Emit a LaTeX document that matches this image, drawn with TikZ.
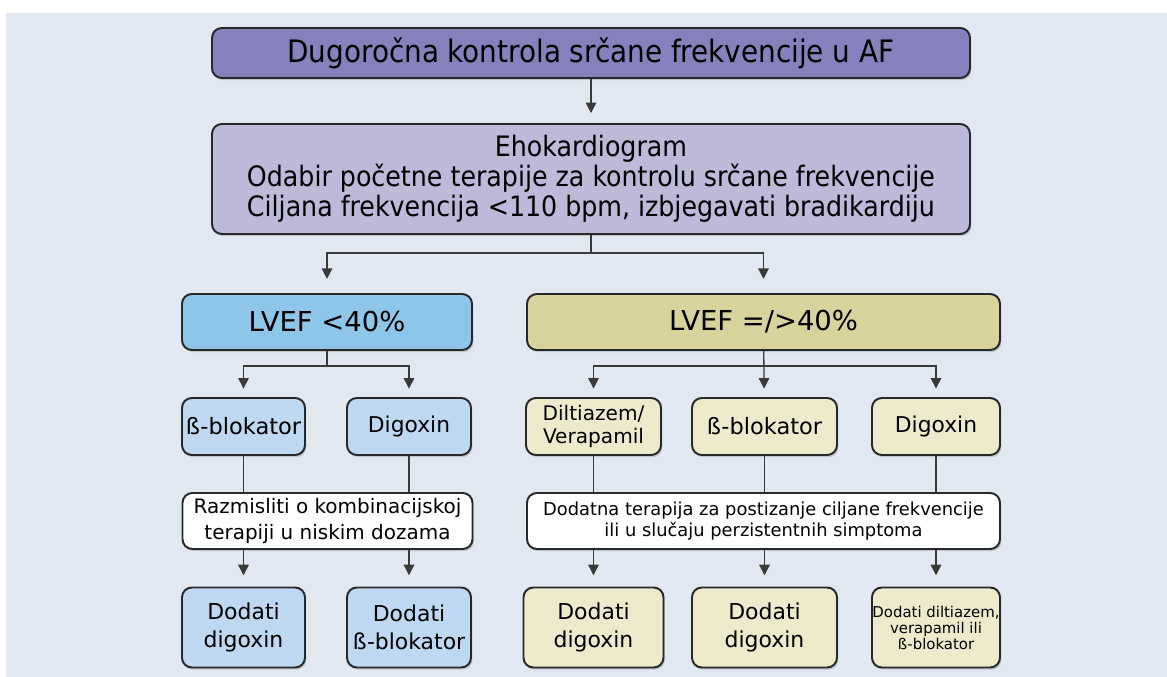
\documentclass[tikz,border=0pt]{standalone}
\usepackage{fontspec}
\setmainfont{DejaVu Sans}
\newfontfamily\condfont{DejaVu Sans Condensed}
\usepackage{tikz}
\definecolor{backdrop}{RGB}{225, 232, 242}
\definecolor{outline}{RGB}{40, 40, 40}
\definecolor{wirecol}{RGB}{58, 58, 58}
\definecolor{topviolet}{RGB}{134, 128, 189}
\definecolor{lilac}{RGB}{188, 185, 217}
\definecolor{skyblue}{RGB}{141, 198, 232}
\definecolor{paleblue}{RGB}{189, 216, 240}
\definecolor{khaki}{RGB}{216, 211, 157}
\definecolor{palekhaki}{RGB}{237, 234, 204}
\usetikzlibrary{arrows.meta, positioning, calc, shadows}
\newlength\pix
\setlength\pix{0.025cm}

\begin{document}
\begin{tikzpicture}[x=0.025cm, y=-0.025cm,
    box/.style={draw=outline, line width=1.4pt, rounded corners=7pt, fill=#1,
                align=center, inner sep=0pt,
                drop shadow={shadow xshift=1pt, shadow yshift=-1.5pt, fill=black, opacity=0.15}},
    wire/.style={draw=wirecol, line width=0.9pt},
    link/.style={wire, -{Triangle[length=7.5pt, width=7.5pt]}, shorten >=#1},
    link/.default=6pt
]
    \useasboundingbox (0,0) rectangle (1167,677);
    \fill[backdrop] (6,13) rectangle (1167,677);

    \node[box=topviolet, font=\condfont\fontsize{22}{26}\selectfont,
          minimum width=758\pix, minimum height=50\pix] (goal) at (591,53)
        {Dugoročna kontrola srčane frekvencije u AF};

    \node[box=lilac, font=\condfont\fontsize{20}{21.5}\selectfont,
          minimum width=758\pix, minimum height=110\pix] (echo) at (591,179) {
        Ehokardiogram\\
        Odabir početne terapije za kontrolu srčane frekvencije\\
        Ciljana frekvencija <110 bpm, izbjegavati bradikardiju
    };

    \node[box=skyblue, font=\fontsize{19.5}{23}\selectfont,
          minimum width=290\pix, minimum height=56\pix] (low) at (327,322) {LVEF <40\%};
    \node[box=khaki, font=\fontsize{19.5}{23}\selectfont,
          minimum width=473\pix, minimum height=56\pix] (high) at (763.5,322) {LVEF =/>40\%};

    \node[box=paleblue, font=\fontsize{16}{18}\selectfont,
          minimum width=123\pix, minimum height=57\pix] (lowbeta) at (243.5,426.5) {ß-blokator};
    \node[box=paleblue, font=\fontsize{15.5}{18}\selectfont,
          minimum width=124\pix, minimum height=57\pix] (lowdig) at (409,426.5) {Digoxin};
    \node[box=palekhaki, font=\fontsize{14.3}{16.6}\selectfont,
          minimum width=135\pix, minimum height=57\pix] (highcal) at (593.5,426.5) {Diltiazem/\\Verapamil};
    \node[box=palekhaki, font=\fontsize{16}{18}\selectfont,
          minimum width=145\pix, minimum height=57\pix] (highbeta) at (764.5,426.5) {ß-blokator};
    \node[box=palekhaki, font=\fontsize{15.5}{18}\selectfont,
          minimum width=128\pix, minimum height=57\pix] (highdig) at (936,426.5) {Digoxin};

    \node[box=white, font=\fontsize{14.2}{17.8}\selectfont,
          minimum width=290\pix, minimum height=56\pix] (lowcombo) at (327.5,521) {
        Razmisliti o kombinacijskoj\\terapiji u niskim dozama
    };
    \node[box=white, font=\fontsize{12.7}{15.5}\selectfont,
          minimum width=473\pix, minimum height=56\pix] (highcombo) at (763.5,521) {
        Dodatna terapija za postizanje ciljane frekvencije\\ili u slučaju perzistentnih simptoma
    };

    \node[box=paleblue, font=\fontsize{15.6}{20}\selectfont,
          minimum width=123\pix, minimum height=80\pix] (lowadd1) at (243.5,627.5) {Dodati\\digoxin};
    \node[box=paleblue, font=\fontsize{15.6}{20}\selectfont,
          minimum width=124\pix, minimum height=80\pix] (lowadd2) at (409,627.5) {Dodati\\ß-blokator};
    \node[box=palekhaki, font=\fontsize{15.6}{20}\selectfont,
          minimum width=140\pix, minimum height=80\pix] (highadd1) at (593.5,627.5) {Dodati\\digoxin};
    \node[box=palekhaki, font=\fontsize{15.6}{20}\selectfont,
          minimum width=145\pix, minimum height=80\pix] (highadd2) at (764.5,627.5) {Dodati\\digoxin};
    \node[box=palekhaki, font=\fontsize{10.6}{11.4}\selectfont,
          minimum width=128\pix, minimum height=80\pix] (highadd3) at (936,627.5) {
        Dodati diltiazem,\\verapamil ili\\ß-blokator
    };

    \draw[link=7pt] (goal) -- (echo);
    \draw[link=10pt] (echo.south) -- ++(0,18) -| (low.north);
    \draw[link=10pt] (echo.south) -- ++(0,18) -| (high.north);

    \draw[link] (low.south) -- ++(0,15) -| (lowbeta.north);
    \draw[link] (low.south) -- ++(0,15) -| (lowdig.north);
    \draw[link] (high.south) -- ++(0,15) -| (highcal.north);
    \draw[link] (high) -- (highbeta);
    \draw[link] (high.south) -- ++(0,15) -| (highdig.north);

    \foreach \src/\dst in {lowbeta/lowcombo, lowdig/lowcombo, highcal/highcombo,
                           highbeta/highcombo, highdig/highcombo}
        \draw[wire] (\src) -- (\src |- \dst.north);

    \foreach \dst/\src in {lowadd1/lowcombo, lowadd2/lowcombo, highadd1/highcombo,
                           highadd2/highcombo, highadd3/highcombo}
        \draw[link=8pt] (\src.south -| \dst) -- (\dst);
\end{tikzpicture}
\end{document}
